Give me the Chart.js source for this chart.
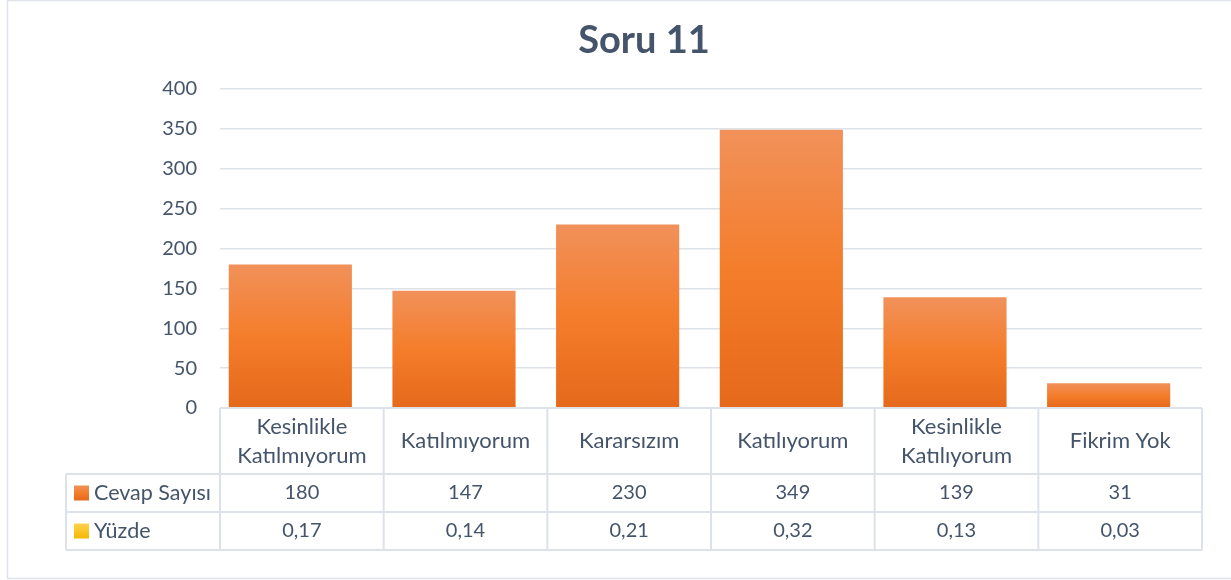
<!DOCTYPE html>
<html>
<head>
<meta charset="utf-8">
<script src="https://cdn.jsdelivr.net/npm/chart.js@4/dist/chart.umd.min.js"></script>
<style>
html,body{margin:0;padding:0;background:#fff;}
#wrap{width:1231px;height:580px;}
</style>
</head>
<body>
<div id="wrap"><canvas id="c" width="1231" height="580"></canvas></div>
<script>
const chartTitle = 'Soru 11';
const categories = [['Kesinlikle','Katılmıyorum'], ['Katılmıyorum'], ['Kararsızım'], ['Katılıyorum'], ['Kesinlikle','Katılıyorum'], ['Fikrim Yok']];
const seriesNames = ['Cevap Sayısı', 'Yüzde'];
const cevapSayisi = [180, 147, 230, 349, 139, 31];
const yuzde = [0.17, 0.14, 0.21, 0.32, 0.13, 0.03];
const yuzdeLabels = ['0,17', '0,14', '0,21', '0,32', '0,13', '0,03'];
const yTicks = [0, 50, 100, 150, 200, 250, 300, 350, 400];

const TEXT = '#44546a';
const LINE = '#dde2e8';
const FONT = 'Lato, "Open Sans", sans-serif';

function orangeGrad(ctx, top, bottom) {
  const g = ctx.createLinearGradient(0, top, 0, bottom);
  g.addColorStop(0, '#f1915a');
  g.addColorStop(0.5, '#f47d2b');
  g.addColorStop(1, '#e5691b');
  return g;
}
function yellowGrad(ctx, top, bottom) {
  const g = ctx.createLinearGradient(0, top, 0, bottom);
  g.addColorStop(0, '#ffd34f');
  g.addColorStop(1, '#f5b800');
  return g;
}

const tablePlugin = {
  id: 'tablePlugin',
  beforeDraw(chart) {
    const ctx = chart.ctx;
    ctx.save();
    ctx.fillStyle = '#fff';
    ctx.fillRect(0, 0, chart.width, chart.height);
    ctx.strokeStyle = '#dfe3e9';
    ctx.lineWidth = 1.5;
    ctx.strokeRect(7.5, 0.5, 1240, 578);
    ctx.restore();
  },
  afterDraw(chart) {
    const ctx = chart.ctx;
    const xs = chart.scales.x;
    const area = chart.chartArea;
    const n = categories.length;
    const cw = (xs.right - xs.left) / n;
    const top = area.bottom;
    const hdrH = 66, rowH = 38;
    const r1 = top + hdrH, r2 = r1 + rowH, r3 = r2 + rowH;
    const leftCol = 66;

    ctx.save();
    // title
    ctx.fillStyle = TEXT;
    ctx.font = 'bold 38px ' + FONT;
    ctx.textAlign = 'center';
    ctx.textBaseline = 'alphabetic';
    ctx.fillText(chartTitle, 644, 53);

    // lines
    ctx.strokeStyle = LINE;
    ctx.lineWidth = 2;
    ctx.beginPath();
    ctx.moveTo(xs.left, top); ctx.lineTo(xs.right, top);
    [r1, r2, r3].forEach(y => { ctx.moveTo(leftCol, y); ctx.lineTo(xs.right, y); });
    for (let i = 0; i <= n; i++) {
      const x = xs.left + i * cw;
      ctx.moveTo(x, top); ctx.lineTo(x, r3);
    }
    ctx.moveTo(leftCol, r1); ctx.lineTo(leftCol, r3);
    ctx.stroke();

    ctx.fillStyle = TEXT;
    ctx.textAlign = 'center';
    ctx.textBaseline = 'middle';
    const lh = 29;
    categories.forEach((lab, i) => {
      const cx = xs.getPixelForValue(i);
      const cy = top + hdrH / 2;
      const y0 = cy - (lab.length - 1) * lh / 2;
      ctx.font = '22px ' + FONT;
      lab.forEach((l, k) => ctx.fillText(l, cx, y0 + k * lh));
      ctx.font = '20px ' + FONT;
      ctx.fillText(String(cevapSayisi[i]), cx, r1 + rowH / 2);
      ctx.fillText(yuzdeLabels[i], cx, r2 + rowH / 2);
    });

    // series legend cells
    ctx.textAlign = 'left';
    ctx.font = '21.5px ' + FONT;
    const keyX = 74, keyS = 15;
    let ky = r1 + rowH / 2 - keyS / 2;
    ctx.fillStyle = orangeGrad(ctx, ky, ky + keyS);
    ctx.fillRect(keyX, ky, keyS, keyS);
    ctx.fillStyle = TEXT;
    ctx.fillText(seriesNames[0], 94, r1 + rowH / 2);
    ky = r2 + rowH / 2 - keyS / 2;
    ctx.fillStyle = yellowGrad(ctx, ky, ky + keyS);
    ctx.fillRect(keyX, ky, keyS, keyS);
    ctx.fillStyle = TEXT;
    ctx.fillText(seriesNames[1], 94, r2 + rowH / 2);
    ctx.restore();
  }
};

function barBg(kind) {
  return function(context) {
    const chart = context.chart;
    if (!chart.chartArea || context.type !== 'data') return kind === 'o' ? '#f47d2b' : '#ffc000';
    const ys = chart.scales.y;
    const v = context.parsed ? context.parsed.y : context.raw;
    const t = ys.getPixelForValue(v), b = ys.getPixelForValue(0);
    return kind === 'o' ? orangeGrad(chart.ctx, t, b) : yellowGrad(chart.ctx, t, b);
  };
}

new Chart(document.getElementById('c'), {
  type: 'bar',
  data: {
    labels: categories,
    datasets: [
      { label: seriesNames[0], data: cevapSayisi, backgroundColor: barBg('o'), borderWidth: 0,
        categoryPercentage: 0.2813, barPercentage: 5.35 },
      { label: seriesNames[1], data: yuzde, backgroundColor: barBg('y'), borderWidth: 0,
        categoryPercentage: 0.2813, barPercentage: 5.35 }
    ]
  },
  options: {
    responsive: false,
    animation: false,
    layout: { padding: { top: 89, bottom: 172, right: 29, left: 0 } },
    plugins: { legend: { display: false }, title: { display: false }, tooltip: { enabled: false } },
    scales: {
      x: { display: false },
      y: {
        min: 0, max: 400,
        afterFit(scale) { scale.width = 220; },
        afterBuildTicks(scale) { scale.ticks = yTicks.map(v => ({ value: v })); },
        ticks: { color: TEXT, font: { family: FONT, size: 20 }, padding: 23 },
        grid: { color: LINE, lineWidth: 1.5, drawTicks: false },
        border: { display: false }
      }
    }
  },
  plugins: [tablePlugin]
});
</script>
</body>
</html>
